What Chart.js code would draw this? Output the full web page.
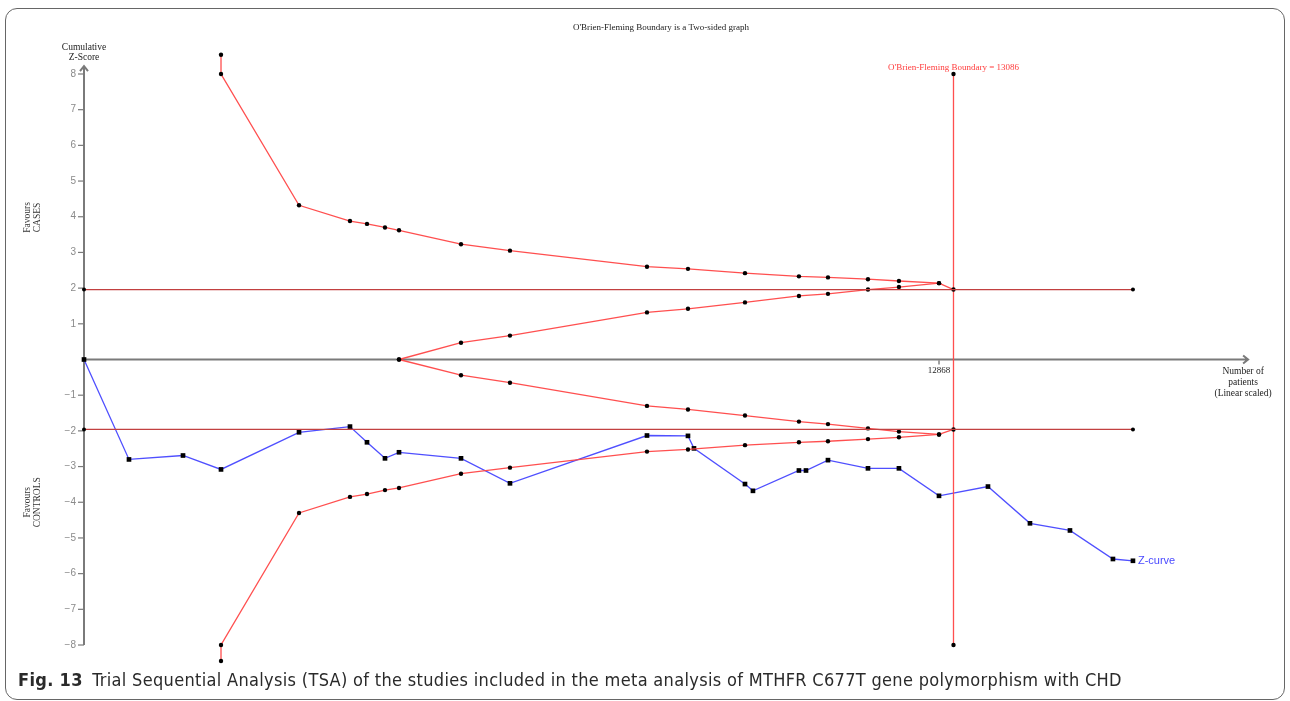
<!DOCTYPE html>
<html>
<head>
<meta charset="utf-8">
<script src="https://cdn.jsdelivr.net/npm/chart.js@4"></script>
<style>
  html, body { margin: 0; padding: 0; background: #fff; }
  #frame {
    position: absolute; left: 5px; top: 8px; width: 1278px; height: 690px;
    border: 1.5px solid #666; border-radius: 12px;
  }
  #tsa { position: absolute; left: 0; top: 0; }
  #caption {
    position: absolute; left: 18px; top: 669px; white-space: nowrap;
    font-family: "Liberation Sans Narrow", "DejaVu Sans Condensed", "Open Sans", sans-serif;
    font-stretch: condensed; font-size: 18px; letter-spacing: 0.32px; color: #2a2a2a;
  }
  #caption b { font-weight: bold; margin-right: 4px; }
</style>
</head>
<body>
<div id="frame"></div>
<canvas id="tsa" width="1290" height="701"></canvas>
<div id="caption"><b>Fig. 13</b> Trial Sequential Analysis (TSA) of the studies included in the meta analysis of MTHFR C677T gene polymorphism with CHD</div>
<script>
// patients (x) for each information point
const boundaryX = [2062, 2062, 3236, 4003, 4259, 4530, 4741, 5674, 6411, 8473, 9090, 9948, 10760, 11197, 11799, 12265, 12868, 13086];
const upperBoundary = [8.54, 8, 4.32, 3.88, 3.80, 3.70, 3.62, 3.23, 3.05, 2.60, 2.54, 2.42, 2.33, 2.30, 2.25, 2.20, 2.14, 1.96];
const lowerBoundary = [-8.45, -8, -4.30, -3.85, -3.77, -3.66, -3.60, -3.20, -3.03, -2.58, -2.52, -2.40, -2.32, -2.29, -2.23, -2.18, -2.10, -1.96];

const futilityX = [4741, 5674, 6411, 8473, 9090, 9948, 10760, 11197, 11799, 12265, 12868];
const upperFutility = [0, 0.47, 0.67, 1.32, 1.42, 1.60, 1.78, 1.84, 1.96, 2.03, 2.14];
const lowerFutility = [0, -0.44, -0.65, -1.30, -1.40, -1.57, -1.74, -1.81, -1.93, -2.02, -2.10];

const zCurveX = [0, 677, 1490, 2062, 3236, 4003, 4259, 4530, 4741, 5674, 6411, 8473, 9090, 9180, 9948, 10068, 10760, 10866, 11197, 11799, 12265, 12868, 13605, 14237, 14839, 15486, 15787];
const zCurve = [0, -2.80, -2.69, -3.08, -2.04, -1.88, -2.32, -2.77, -2.60, -2.77, -3.47, -2.13, -2.14, -2.49, -3.49, -3.68, -3.11, -3.11, -2.82, -3.05, -3.05, -3.82, -3.56, -4.59, -4.79, -5.59, -5.64];

const conventionalX = [0, 15787];
const conventionalZ = [1.96, -1.96];

const requiredSize = 13086;
const requiredLine = [8, -8];

const yTicks = [8, 7, 6, 5, 4, 3, 2, 1, -1, -2, -3, -4, -5, -6, -7, -8];
const xTicks = [12868];

const xMax = 17520;
const serif = '"Liberation Serif", "Times New Roman", serif';
const sans = '"Liberation Sans", Arial, sans-serif';

function pts(xs, ys) {
    return xs.map((x, i) => ({ x: x, y: ys[i] }));
}

const redLine = 'rgba(255, 70, 70, 0.95)';
const darkRed = '#c24040';

const datasets = [
    {
        label: 'conv upper',
        data: pts(conventionalX, [conventionalZ[0], conventionalZ[0]]),
        borderColor: darkRed, borderWidth: 1.3,
        pointRadius: 2, pointBackgroundColor: '#000', pointBorderWidth: 0
    },
    {
        label: 'conv lower',
        data: pts(conventionalX, [conventionalZ[1], conventionalZ[1]]),
        borderColor: darkRed, borderWidth: 1.3,
        pointRadius: 2, pointBackgroundColor: '#000', pointBorderWidth: 0
    },
    {
        label: 'upper boundary',
        data: pts(boundaryX, upperBoundary),
        borderColor: redLine, borderWidth: 1.3,
        pointRadius: 2.2, pointBackgroundColor: '#000', pointBorderWidth: 0
    },
    {
        label: 'lower boundary',
        data: pts(boundaryX, lowerBoundary),
        borderColor: redLine, borderWidth: 1.3,
        pointRadius: 2.2, pointBackgroundColor: '#000', pointBorderWidth: 0
    },
    {
        label: 'upper futility',
        data: pts(futilityX, upperFutility),
        borderColor: redLine, borderWidth: 1.3,
        pointRadius: 2.2, pointBackgroundColor: '#000', pointBorderWidth: 0
    },
    {
        label: 'lower futility',
        data: pts(futilityX, lowerFutility),
        borderColor: redLine, borderWidth: 1.3,
        pointRadius: 2.2, pointBackgroundColor: '#000', pointBorderWidth: 0
    },
    {
        label: 'required information size',
        data: pts([requiredSize, requiredSize], requiredLine),
        borderColor: redLine, borderWidth: 1.3,
        pointRadius: 2.2, pointBackgroundColor: '#000', pointBorderWidth: 0
    },
    {
        label: 'Z-curve',
        data: pts(zCurveX, zCurve),
        borderColor: 'rgba(70, 70, 255, 0.95)', borderWidth: 1.3,
        pointStyle: 'rect', pointRadius: 3.3, pointBackgroundColor: '#000', pointBorderWidth: 0
    }
];

// axes, ticks and labels, drawn from the chart's own scales
const tsaAxes = {
    id: 'tsaAxes',
    beforeDatasetsDraw(chart) {
        const c = chart.ctx, xs = chart.scales.x, ys = chart.scales.y;
        const ax = xs.getPixelForValue(0), ay = ys.getPixelForValue(0);
        c.save();
        c.strokeStyle = '#7a7a7a';
        c.lineWidth = 2;
        // y axis with arrow
        const yTop = ys.getPixelForValue(8.22), yBot = ys.getPixelForValue(-8);
        c.beginPath();
        c.moveTo(ax, yBot); c.lineTo(ax, yTop);
        c.moveTo(ax - 4, yTop + 5); c.lineTo(ax, yTop); c.lineTo(ax + 4, yTop + 5);
        c.stroke();
        // x axis with arrow
        const xEnd = xs.getPixelForValue(xMax);
        c.beginPath();
        c.moveTo(ax, ay); c.lineTo(xEnd, ay);
        c.moveTo(xEnd - 5, ay - 4); c.lineTo(xEnd, ay); c.lineTo(xEnd - 5, ay + 4);
        c.stroke();
        // y ticks
        c.lineWidth = 1.2;
        c.fillStyle = '#8a8a8a';
        c.font = '10px ' + sans;
        c.textAlign = 'right';
        c.textBaseline = 'middle';
        yTicks.forEach(v => {
            const py = ys.getPixelForValue(v);
            c.beginPath(); c.moveTo(ax - 6, py); c.lineTo(ax, py); c.stroke();
            c.fillText(v < 0 ? '\u2212' + Math.abs(v) : String(v), ax - 8, py);
        });
        // x ticks
        c.strokeStyle = '#444';
        c.lineWidth = 1;
        c.fillStyle = '#222';
        c.font = '9px ' + serif;
        c.textAlign = 'center';
        c.textBaseline = 'top';
        xTicks.forEach(v => {
            const px = xs.getPixelForValue(v);
            c.beginPath(); c.moveTo(px, ay + 1); c.lineTo(px, ay + 5); c.stroke();
            c.fillText(String(v), px, ay + 7);
        });
        c.restore();
    },
    afterDatasetsDraw(chart) {
        const c = chart.ctx, xs = chart.scales.x, ys = chart.scales.y;
        const ax = xs.getPixelForValue(0), ay = ys.getPixelForValue(0);
        c.save();
        c.textAlign = 'center';
        c.textBaseline = 'middle';
        c.font = '9px ' + serif;
        c.fillStyle = '#222';
        c.fillText("O'Brien-Fleming Boundary is a Two-sided graph", 661, 28);
        c.font = '9.5px ' + serif;
        c.fillText('Cumulative', ax, 47);
        c.fillText('Z-Score', ax, 57);
        const xEnd = xs.getPixelForValue(xMax);
        c.fillText('Number of', xEnd - 5, ay + 12);
        c.fillText('patients', xEnd - 5, ay + 23);
        c.fillText('(Linear scaled)', xEnd - 5, ay + 34);
        c.font = '9px ' + serif;
        c.fillStyle = '#ff3b3b';
        c.fillText("O'Brien-Fleming Boundary = " + requiredSize, xs.getPixelForValue(requiredSize), 68);
        // side labels
        c.font = '9.5px ' + serif;
        const sideLabel = (l1, l2, py) => {
            c.save();
            c.translate(32, py);
            c.rotate(-Math.PI / 2);
            c.fillStyle = '#333';
            c.fillText(l1, 0, -5);
            c.fillText(l2, 0, 5);
            c.restore();
        };
        sideLabel('Favours', 'CASES', ys.getPixelForValue(3.98));
        sideLabel('Favours', 'CONTROLS', ys.getPixelForValue(-4.0));
        // Z-curve label
        const last = zCurve.length - 1;
        c.fillStyle = '#4a4aff';
        c.font = '11px ' + sans;
        c.textAlign = 'left';
        c.fillText('Z-curve', xs.getPixelForValue(zCurveX[last]) + 5, ys.getPixelForValue(zCurve[last]));
        c.restore();
    }
};

const ctx = document.getElementById('tsa').getContext('2d');
const tsaChart = new Chart(ctx, {
    type: 'scatter',
    data: { datasets: datasets.map(d => Object.assign({ showLine: true, fill: false, tension: 0, clip: false }, d)) },
    options: {
        responsive: false,
        animation: false,
        layout: { padding: { left: 84, right: 41.9, top: 38.3, bottom: 20.3 } },
        scales: {
            x: { type: 'linear', min: 0, max: xMax, display: false },
            y: { type: 'linear', min: -9, max: 9, display: false }
        },
        plugins: { legend: { display: false }, tooltip: { enabled: false } }
    },
    plugins: [tsaAxes]
});
</script>
</body>
</html>
